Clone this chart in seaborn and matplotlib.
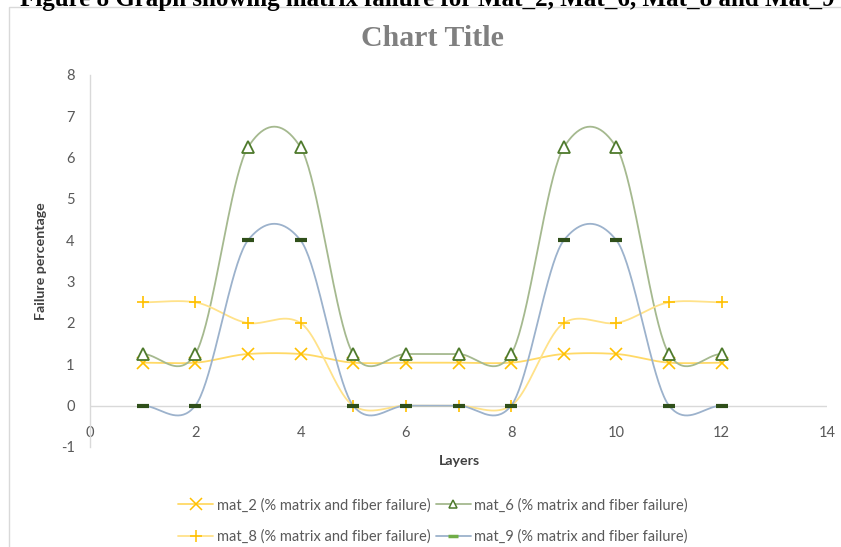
import numpy as np
import pandas as pd
import matplotlib
matplotlib.use("Agg")
import matplotlib.pyplot as plt
from matplotlib.lines import Line2D
from matplotlib.patches import Rectangle
import seaborn as sns

# data
layers = [1, 2, 3, 4, 5, 6, 7, 8, 9, 10, 11, 12]
mat_2 = [1.04, 1.04, 1.25, 1.25, 1.04, 1.04, 1.04, 1.04, 1.25, 1.25, 1.04, 1.04]
mat_6 = [1.25, 1.25, 6.25, 6.25, 1.25, 1.25, 1.25, 1.25, 6.25, 6.25, 1.25, 1.25]
mat_8 = [2.5, 2.5, 2.0, 2.0, 0, 0, 0, 0, 2.0, 2.0, 2.5, 2.5]
mat_9 = [0, 0, 4, 4, 0, 0, 0, 0, 4, 4, 0, 0]

suffix = " (% matrix and fiber failure)"
series_names = ["mat_2", "mat_6", "mat_8", "mat_9"]
series_vals = [mat_2, mat_6, mat_8, mat_9]

# line colour, marker, marker colour
styles = {
    "mat_2": ("#FFD966", "x", "#FFC000"),
    "mat_6": ("#A5B98F", "^", "#4E7A2C"),
    "mat_8": ("#FFE28A", "+", "#FFC000"),
    "mat_9": ("#9CB2CC", "_", "#2F4F1A"),
}


# excel-like smoothed line (cardinal spline)
def smooth(x, y, n=40, k=0.8):
    x = np.asarray(x, float)
    y = np.asarray(y, float)
    m = np.zeros_like(y)
    m[1:-1] = (y[2:] - y[:-2]) / 2
    m[0] = (y[1] - y[0]) / 2
    m[-1] = (y[-1] - y[-2]) / 2
    m *= k
    xs, ys = [], []
    for i in range(len(x) - 1):
        t = np.linspace(0, 1, n, endpoint=False)
        h00 = 2 * t**3 - 3 * t**2 + 1
        h10 = t**3 - 2 * t**2 + t
        h01 = -2 * t**3 + 3 * t**2
        h11 = t**3 - t**2
        dx = x[i + 1] - x[i]
        xs.append(x[i] + t * dx)
        ys.append(h00 * y[i] + h10 * m[i] * dx + h01 * y[i + 1] + h11 * m[i + 1] * dx)
    xs.append([x[-1]])
    ys.append([y[-1]])
    return np.concatenate(xs), np.concatenate(ys)


sns.set_theme(style="white")
plt.rcParams["font.family"] = ["Lato", "DejaVu Sans"]
plt.rcParams["axes.unicode_minus"] = False

fig = plt.figure(figsize=(8.41, 5.47), dpi=100)

# chart area border and the cut-off caption above it
fig.patches.append(Rectangle((9 / 841, -0.01), 1.0, 1 - 7 / 547 + 0.01, transform=fig.transFigure,
                             fill=False, edgecolor="#d9d9d9", lw=1))
fig.text(20 / 841, 1 - 6 / 547, "Figure 8 Graph showing matrix failure for Mat_2, Mat_6, Mat_8 and Mat_9",
         family="Liberation Serif", fontweight="bold", fontsize=18, color="black", va="baseline", ha="left")
fig.text(432 / 841, 1 - 38 / 547, "Chart Title", family="Liberation Serif", fontweight="bold", fontsize=21.5,
         color="#808080", ha="center", va="center")

ax = fig.add_axes([90 / 841, 1 - 447 / 547, (827 - 90) / 841, (447 - 75) / 547])

for name, vals in zip(series_names, series_vals):
    lc, mk, mc = styles[name]
    sx, sy = smooth(layers, vals)
    df = pd.DataFrame({"x": sx, "y": sy})
    sns.lineplot(data=df, x="x", y="y", ax=ax, color=lc, lw=1.3, sort=False, estimator=None, zorder=2)

for name, vals in zip(series_names, series_vals):
    lc, mk, mc = styles[name]
    if mk == "^":
        ax.plot(layers, vals, ls="none", marker=mk, ms=8, mec=mc, mfc="white", mew=1.3, zorder=4)
    elif mk == "_":
        ax.plot(layers, vals, ls="none", marker=mk, ms=9, mec=mc, mew=3, zorder=4)
    else:
        ax.plot(layers, vals, ls="none", marker=mk, ms=9, mec=mc, mew=1.2, zorder=4)

ax.axhline(0, color="#d9d9d9", lw=1, zorder=1)
ax.set_xlim(0, 14)
ax.set_ylim(-1, 8)
ax.set_xticks(range(0, 15, 2))
ax.set_yticks(range(-1, 9))
for s in ["top", "right", "bottom"]:
    ax.spines[s].set_visible(False)
ax.spines["left"].set_color("#d9d9d9")
ax.spines["left"].set_linewidth(1)
ax.tick_params(axis="x", length=0, pad=-15, labelsize=10.5, labelcolor="#595959")
ax.tick_params(axis="y", length=0, pad=11, labelsize=10.5, labelcolor="#595959")
ax.set_xlabel("")
ax.set_ylabel("")
ax.set_facecolor("none")

fig.text(41 / 841, 1 - 261 / 547, "Failure percentage", rotation=90, fontweight="bold", fontsize=10.2,
         color="#404040", ha="center", va="center")
fig.text(459 / 841, 1 - 461 / 547, "Layers", fontweight="bold", fontsize=10.2, color="#404040",
         ha="center", va="center")

handles = []
for name in ["mat_2", "mat_8", "mat_6", "mat_9"]:
    lc, mk, mc = styles[name]
    if mk == "^":
        h = Line2D([], [], color=lc, lw=1.3, marker=mk, ms=6, mec=mc, mfc="white", mew=1.1)
    elif mk == "_":
        h = Line2D([], [], color=lc, lw=1.3, marker=mk, ms=7, mec="#70AD47", mew=2.5)
    else:
        h = Line2D([], [], color=lc, lw=1.3, marker=mk, ms=8, mec=mc, mew=1.1)
    handles.append((h, name + suffix))

fig.legend([h for h, _ in handles], [l for _, l in handles], ncol=2, loc="center",
           bbox_to_anchor=(433 / 841, 1 - 521 / 547), frameon=False, fontsize=10.5,
           labelcolor="#595959", handlelength=2.4, handletextpad=0.25, columnspacing=0.35,
           labelspacing=1.2)

fig.savefig("out.png", dpi=100)
